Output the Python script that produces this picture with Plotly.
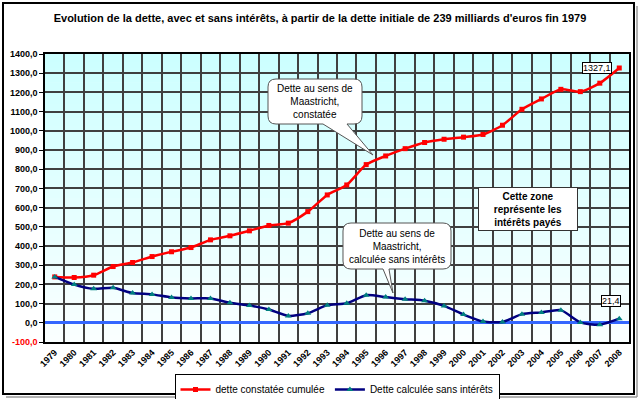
import plotly.graph_objects as go

years = [str(y) for y in range(1979, 2009)]
dette_constatee = [239, 236, 248, 293, 314, 345, 370, 392, 432, 453, 479, 507, 519, 579, 666,
                   718, 824, 869, 907, 939, 956, 967, 981, 1029, 1112, 1166, 1216, 1204, 1248, 1327.1]
dette_sans_interets = [239, 199, 177, 182, 155, 148, 132, 127, 127, 104, 90, 69, 36, 50, 92,
                       102, 144, 134, 123, 115, 88, 43, 7, 4, 45, 54, 66, 2, -10, 21.4]
y_ticks = list(range(-100, 1401, 100))

FONT = "Arial, Liberation Sans, sans-serif"

# plot area in pixels
L, R, T, B = 45, 629, 54, 342
W, H = R - L, B - T


def px(x):
    return (x - L) / W


def py(y):
    return (B - y) / H


def fmt(v):
    return f"{v:.1f}".replace(".", ",")


fig = go.Figure()
fig.add_trace(go.Scatter(
    x=years, y=dette_constatee, name="dette constatée cumulée", mode="lines+markers",
    line=dict(color="#FF0000", width=2.5, shape="spline", smoothing=0.6),
    marker=dict(symbol="square", size=5, color="#FF0000")))
fig.add_trace(go.Scatter(
    x=years, y=dette_sans_interets, name="Dette calculée sans intérêts", mode="lines+markers",
    line=dict(color="#000080", width=2.5, shape="spline", smoothing=0.6),
    marker=dict(symbol="triangle-up", size=6, color="#008080")))

ticktext = [(f'<span style="color:#FF0000">{fmt(v)}</span>' if v < 0 else fmt(v)) for v in y_ticks]

shapes = []
# gradient background (plot area == paper domain)
n = 40
for i in range(n):
    t = i / (n - 1)
    r = int(round(204 + (250 - 204) * (1 - t)))
    shapes.append(dict(type="rect", xref="paper", yref="paper", x0=0, x1=1,
                       y0=i / n, y1=(i + 1) / n + 0.002, fillcolor=f"rgb({r},255,255)",
                       line=dict(width=0), layer="below"))
# outer frame
shapes.append(dict(type="rect", xref="paper", yref="paper", x0=px(3), x1=px(634), y0=py(394), y1=py(3),
                   line=dict(color="#000000", width=2), fillcolor="rgba(0,0,0,0)", layer="above"))
shapes.append(dict(type="line", xref="paper", yref="paper", x0=px(637), x1=px(637), y0=py(397), y1=py(6),
                   line=dict(color="#999999", width=1.5)))
shapes.append(dict(type="line", xref="paper", yref="paper", x0=px(6), x1=px(637), y0=py(397), y1=py(397),
                   line=dict(color="#999999", width=1.5)))


def callout(x0, y0, x1, y1, r, tl, tr, tip):
    P = lambda x, y: f"{px(x):.5f},{py(y):.5f}"
    d = f"M {P(x0 + r, y0)} L {P(x1 - r, y0)} Q {P(x1, y0)} {P(x1, y0 + r)} "
    d += f"L {P(x1, y1 - r)} Q {P(x1, y1)} {P(x1 - r, y1)} "
    d += f"L {P(tr, y1)} L {P(tip[0], tip[1])} L {P(tl, y1)} "
    d += f"L {P(x0 + r, y1)} Q {P(x0, y1)} {P(x0, y1 - r)} "
    d += f"L {P(x0, y0 + r)} Q {P(x0, y0)} {P(x0 + r, y0)} Z"
    return dict(type="path", xref="paper", yref="paper", path=d, fillcolor="white",
                line=dict(color="#555555", width=1), layer="above")


shapes.append(callout(268, 79, 362, 124, 8, 323, 347, (373, 155)))
shapes.append(callout(343, 223, 451, 269, 8, 383, 389, (393, 293)))

last = len(years) - 1
annotations = [
    dict(xref="paper", yref="paper", x=px(315), y=py(101.5), text="Dette au sens de<br>Maastricht,<br>constatée",
         showarrow=False, font=dict(family=FONT, size=10, color="black"), xanchor="center", yanchor="middle"),
    dict(xref="paper", yref="paper", x=px(397), y=py(246), text="Dette au sens de<br>Maastricht,<br>calculée sans intérêts",
         showarrow=False, font=dict(family=FONT, size=10, color="black"), xanchor="center", yanchor="middle"),
    dict(xref="paper", yref="paper", x=px(528), y=py(209), text="<b>Cette zone<br>représente les<br>intérêts payés</b>",
         showarrow=False, font=dict(family=FONT, size=10, color="black"), xanchor="center", yanchor="middle",
         bgcolor="white", bordercolor="#333333", borderwidth=1, width=96, height=40, borderpad=1),
    dict(xref="x", yref="y", x=last, y=dette_constatee[-1], text=fmt(dette_constatee[-1]), showarrow=False,
         xanchor="right", yanchor="middle", xshift=-7, font=dict(family=FONT, size=9, color="black"),
         bgcolor="white", bordercolor="#000000", borderwidth=1, borderpad=0),
    dict(xref="x", yref="y", x=last, y=dette_sans_interets[-1], text=fmt(dette_sans_interets[-1]), showarrow=False,
         xanchor="right", yanchor="bottom", xshift=2, yshift=12, font=dict(family=FONT, size=9, color="black"),
         bgcolor="white", bordercolor="#000000", borderwidth=1, borderpad=0),
]

fig.update_layout(
    width=640, height=399,
    margin=dict(l=L, r=640 - R, t=T, b=399 - B, autoexpand=False),
    paper_bgcolor="white", plot_bgcolor="rgba(0,0,0,0)",
    font=dict(family=FONT, size=10, color="black"),
    hovermode=False,
    title=dict(text="<b>Evolution de la dette, avec et sans intérêts, à partir de la dette initiale de 239 milliards d'euros fin 1979</b>",
               x=0.5, xref="container", y=1 - 18 / 399, yref="container", xanchor="center", yanchor="middle",
               font=dict(family=FONT, size=11, color="black")),
    showlegend=True,
    legend=dict(orientation="h", x=px(337), xanchor="center", xref="paper",
                y=py(374), yanchor="top", bgcolor="white", bordercolor="#000000", borderwidth=1,
                font=dict(family=FONT, size=10, color="black"), itemwidth=30, tracegroupgap=0),
    shapes=shapes, annotations=annotations,
)
fig.update_xaxes(type="category", tickson="boundaries", showgrid=True, gridcolor="#404040", gridwidth=1.5,
                 tickangle=-45, tickfont=dict(family=FONT, size=9, color="black", weight="bold"),
                 showline=True, linecolor="black", linewidth=1.5, mirror=True, ticks="", range=[-0.5, 29.5])
fig.update_yaxes(range=[-100, 1400], tickvals=y_ticks, ticktext=ticktext, showgrid=True, gridcolor="#404040",
                 gridwidth=1.5, tickfont=dict(family=FONT, size=9, color="black", weight="bold"),
                 showline=True, linecolor="black", linewidth=1.5, mirror=True, ticks="outside", ticklen=4,
                 tickcolor="black", zeroline=True, zerolinecolor="#3366FF", zerolinewidth=2.5)

fig.write_html("out.html", config={"displayModeBar": False},
               post_script="document.body.style.margin='0px';")
